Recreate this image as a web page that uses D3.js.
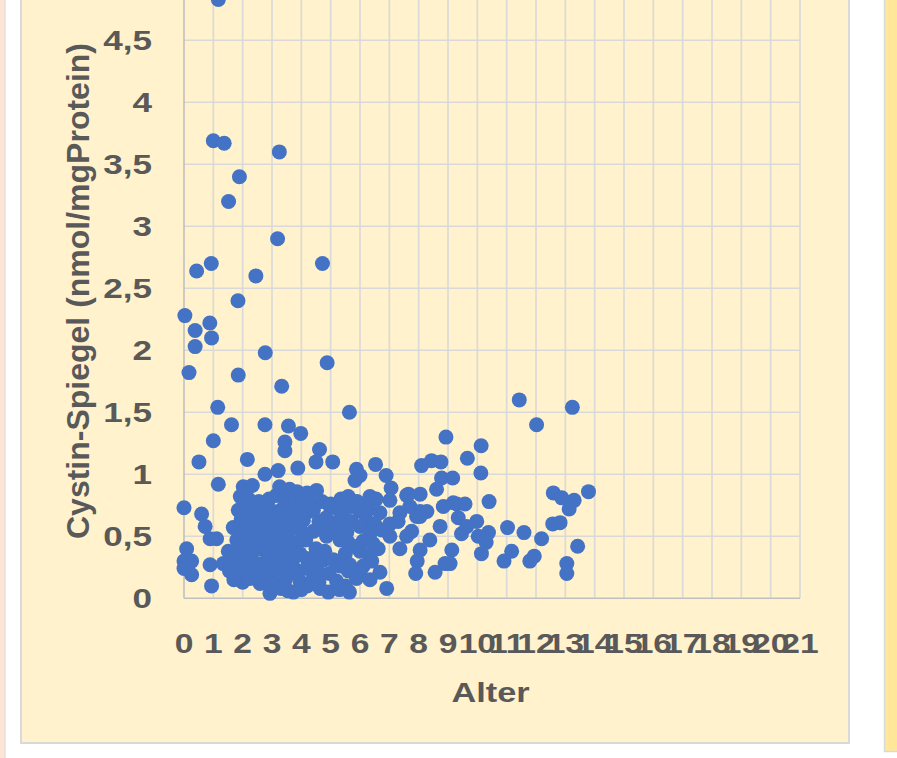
<!DOCTYPE html>
<html>
<head>
<meta charset="utf-8">
<script src="https://cdn.jsdelivr.net/npm/d3@7"></script>
<style>
  body { margin: 0; background: #ffffff; }
  text { font-family: "Liberation Sans", Arial, sans-serif; font-weight: bold; fill: #595959; }
</style>
</head>
<body>
<div id="chart"></div>
<script>
// Achsen
const xTicks = d3.range(0, 22);
const yTicks = [0, 0.5, 1, 1.5, 2, 2.5, 3, 3.5, 4, 4.5];
const yGrid = [0.5, 1, 1.5, 2, 2.5, 3, 3.5, 4, 4.5, 5];
const xTitle = "Alter";
const yTitle = "Cystin-Spiegel (nmol/mgProtein)";

// Einzelne hohe Werte
const hoheWerte = [
  [1.17, 4.83], [1.0, 3.69], [1.37, 3.67], [3.25, 3.60], [1.89, 3.40], [1.52, 3.20],
  [3.19, 2.90], [0.93, 2.70], [0.43, 2.64], [4.72, 2.70], [2.45, 2.60], [1.84, 2.40],
  [0.03, 2.28], [0.88, 2.22], [0.38, 2.16], [0.94, 2.10], [0.38, 2.03], [2.77, 1.98],
  [4.88, 1.90], [0.17, 1.82], [1.85, 1.80], [3.33, 1.71], [1.15, 1.54], [1.62, 1.40],
  [2.76, 1.40], [3.56, 1.39], [3.98, 1.33], [1.0, 1.27], [3.44, 1.26], [3.44, 1.19],
  [4.62, 1.20], [0.51, 1.10], [2.16, 1.12], [2.76, 1.0], [3.21, 1.03], [3.88, 1.05],
  [4.5, 1.10], [1.17, 0.92], [5.64, 1.50], [5.07, 1.10], [5.88, 1.04], [5.83, 0.95],
  [6.0, 0.99], [6.53, 1.08], [6.89, 0.99], [8.93, 1.30], [8.1, 1.07], [8.44, 1.11],
  [8.76, 1.10], [8.78, 0.97], [9.16, 0.97]
];

// Kleinkinder (0-2 Jahre), niedrige Werte
const kleinkinder = [
  [0.0, 0.73], [0.6, 0.68], [0.72, 0.58], [1.68, 0.57], [0.89, 0.48], [1.11, 0.48],
  [0.09, 0.40], [0.0, 0.30], [0.26, 0.30], [0.0, 0.24], [0.26, 0.19], [0.94, 0.10],
  [2.0, 0.13], [2.93, 0.04], [3.73, 0.05], [2.59, 0.12], [0.89, 0.27], [1.51, 0.38],
  [1.34, 0.28]
];

// Dichter Bereich 1.5 - 7 Jahre
const hauptgruppe = [
  [2.02, 0.90], [2.33, 0.91], [3.26, 0.90], [3.6, 0.88], [3.85, 0.86], [4.2, 0.85], [4.52, 0.87],
  [1.92, 0.82], [2.2, 0.80], [2.55, 0.78], [2.9, 0.80], [3.15, 0.83], [3.45, 0.80], [3.75, 0.78],
  [4.05, 0.80], [4.35, 0.76], [4.7, 0.78], [5.0, 0.76], [5.35, 0.80], [5.6, 0.82], [5.9, 0.78],
  [6.2, 0.75], [6.34, 0.82], [6.55, 0.80],
  [1.85, 0.71], [2.15, 0.72], [2.45, 0.70], [2.75, 0.73], [3.05, 0.70], [3.35, 0.72], [3.65, 0.69],
  [3.95, 0.72], [4.25, 0.70], [4.41, 0.71], [4.98, 0.74], [5.25, 0.72], [5.71, 0.74], [6.0, 0.70],
  [6.3, 0.72], [6.68, 0.69],
  [1.95, 0.64], [2.25, 0.62], [2.6, 0.65], [2.9, 0.62], [3.2, 0.64], [3.5, 0.61], [3.8, 0.64],
  [4.07, 0.63], [4.6, 0.62], [4.85, 0.65], [5.15, 0.61], [5.43, 0.66], [5.7, 0.62], [6.23, 0.63],
  [6.5, 0.60], [7.02, 0.60],
  [1.9, 0.55], [2.2, 0.54], [2.5, 0.56], [2.8, 0.53], [3.1, 0.56], [3.4, 0.54], [3.7, 0.57],
  [4.0, 0.54], [4.41, 0.54], [4.7, 0.56], [5.0, 0.55], [5.3, 0.57], [5.55, 0.53], [6.0, 0.58],
  [6.34, 0.52], [6.75, 0.55],
  [1.8, 0.47], [2.05, 0.46], [2.35, 0.48], [2.65, 0.45], [2.95, 0.47], [3.25, 0.46], [3.55, 0.48],
  [3.85, 0.45], [4.15, 0.47], [4.86, 0.50], [5.32, 0.47], [5.6, 0.45], [6.1, 0.46], [6.45, 0.44],
  [1.75, 0.38], [2.0, 0.39], [2.3, 0.37], [2.6, 0.40], [2.9, 0.38], [3.2, 0.36], [3.5, 0.39],
  [3.8, 0.37], [3.95, 0.36], [4.5, 0.40], [4.8, 0.38], [5.77, 0.42], [5.5, 0.36], [6.0, 0.38],
  [6.3, 0.35], [6.62, 0.40],
  [1.6, 0.30], [1.9, 0.29], [2.2, 0.31], [2.5, 0.28], [2.8, 0.30], [3.1, 0.31], [3.4, 0.28],
  [3.7, 0.30], [4.18, 0.32], [4.45, 0.29], [4.75, 0.31], [5.09, 0.31], [5.35, 0.30], [5.65, 0.27],
  [6.11, 0.26], [6.4, 0.30],
  [1.55, 0.22], [1.8, 0.21], [2.1, 0.23], [2.4, 0.20], [2.7, 0.22], [3.0, 0.21], [3.3, 0.23],
  [3.6, 0.20], [3.9, 0.22], [4.2, 0.24], [4.6, 0.21], [4.95, 0.20], [5.32, 0.26], [5.6, 0.22],
  [6.0, 0.21], [6.68, 0.21],
  [1.7, 0.15], [2.25, 0.16], [2.8, 0.14], [3.1, 0.12], [3.45, 0.15], [3.95, 0.14], [4.2, 0.10],
  [4.41, 0.16], [4.6, 0.13], [5.2, 0.14], [5.5, 0.10], [5.88, 0.16], [6.34, 0.15],
  [3.3, 0.08], [3.55, 0.06], [4.0, 0.07], [4.64, 0.08], [4.92, 0.05], [5.3, 0.07], [5.64, 0.05],
  [6.91, 0.08]
];

// Schulkinder und Jugendliche (7-14 Jahre)
const aeltere = [
  [7.06, 0.89], [7.65, 0.84], [8.05, 0.84], [8.61, 0.88], [7.02, 0.79], [7.59, 0.83],
  [7.36, 0.69], [7.70, 0.74], [8.05, 0.70], [8.28, 0.70], [8.84, 0.74], [9.18, 0.77],
  [7.93, 0.66], [8.05, 0.66], [7.3, 0.62], [8.73, 0.58], [7.76, 0.54], [7.59, 0.50],
  [7.02, 0.50], [8.38, 0.47], [7.36, 0.40], [8.05, 0.39], [9.13, 0.39], [7.95, 0.30],
  [8.9, 0.28], [9.07, 0.28], [7.9, 0.20], [8.56, 0.21],
  [11.43, 1.60], [13.24, 1.54], [12.02, 1.40], [10.13, 1.23], [9.66, 1.13], [10.12, 1.01],
  [12.59, 0.85], [12.88, 0.81], [13.3, 0.79], [13.79, 0.86], [13.13, 0.72], [10.4, 0.78],
  [9.3, 0.76], [9.58, 0.76], [9.35, 0.65], [9.98, 0.62], [12.57, 0.60], [12.82, 0.61],
  [11.03, 0.57], [11.59, 0.53], [12.19, 0.48], [10.38, 0.53], [10.3, 0.45], [10.03, 0.50],
  [9.46, 0.52], [9.64, 0.58], [13.42, 0.42], [10.14, 0.36], [11.17, 0.38], [10.91, 0.30],
  [11.94, 0.34], [11.79, 0.30], [13.05, 0.28], [13.05, 0.20]
];

const messwerte = [...hoheWerte, ...kleinkinder, ...hauptgruppe, ...aeltere];

const width = 897, height = 758;
const plot = { left: 184, right: 800, bottom: 598.3 };

const svg = d3.select("#chart").append("svg")
  .attr("width", width)
  .attr("height", height);

// Rahmen links (Nachbarzelle)
svg.append("rect").attr("x", -2).attr("y", -2).attr("width", 7).attr("height", height + 4)
  .attr("fill", "#fbe5d6").attr("stroke", "#e6d6cc").attr("stroke-width", 1);

// Panel rechts
svg.append("rect").attr("x", 884.5).attr("y", -2).attr("width", 20).attr("height", 753.5)
  .attr("fill", "#ffe699").attr("stroke", "#d9d9d9").attr("stroke-width", 1.5);

// Diagrammfläche
svg.append("rect").attr("x", 21).attr("y", -10).attr("width", 828).attr("height", 753)
  .attr("fill", "#fff2cc").attr("stroke", "#d9d9d9").attr("stroke-width", 2);

const x = d3.scaleLinear().domain([0, 21]).range([plot.left, plot.right]);
const y = d3.scaleLinear().domain([0, 5]).range([plot.bottom, plot.bottom - 5 * 124]);

// Gitternetz
const grid = svg.append("g");
grid.selectAll(".v").data(xTicks.filter(d => d > 0)).join("line")
  .attr("x1", d => x(d)).attr("x2", d => x(d))
  .attr("y1", y(5)).attr("y2", y(0))
  .attr("stroke", "#d9d9d9").attr("stroke-width", 1.6);
grid.selectAll(".h").data(yGrid).join("line")
  .attr("x1", x(0)).attr("x2", x(21))
  .attr("y1", d => y(d)).attr("y2", d => y(d))
  .attr("stroke", "#d9d9d9").attr("stroke-width", 1.6);

// Achsenlinien
svg.append("line").attr("x1", x(0)).attr("x2", x(0)).attr("y1", y(5)).attr("y2", y(0))
  .attr("stroke", "#bfbfbf").attr("stroke-width", 1.6);
svg.append("line").attr("x1", x(0)).attr("x2", x(21)).attr("y1", y(0)).attr("y2", y(0))
  .attr("stroke", "#bfbfbf").attr("stroke-width", 1.6);

// Punkte
svg.append("g").selectAll("circle").data(messwerte).join("circle")
  .attr("cx", d => x(d[0]))
  .attr("cy", d => y(d[1]))
  .attr("r", 7.5)
  .attr("fill", "#4472c4");

// Beschriftung x
const fmt = d => String(d).replace(".", ",");
svg.append("g").selectAll("text").data(xTicks).join("text")
  .attr("transform", d => `translate(${x(d)},653) scale(1.2,1)`)
  .attr("text-anchor", "middle")
  .style("font-size", "28px")
  .text(d => d);

// Beschriftung y
svg.append("g").selectAll("text").data(yTicks).join("text")
  .attr("transform", d => `translate(152,${y(d) + 9.5}) scale(1.3,1)`)
  .attr("text-anchor", "end")
  .style("font-size", "27px")
  .text(fmt);

// Achsentitel
svg.append("text")
  .attr("transform", "translate(490.5,702) scale(1.27,1)")
  .attr("text-anchor", "middle")
  .style("font-size", "27px")
  .text(xTitle);

svg.append("text")
  .attr("transform", "translate(89,291) rotate(-90)")
  .attr("text-anchor", "middle")
  .style("font-size", "32px")
  .text(yTitle);
</script>
</body>
</html>
